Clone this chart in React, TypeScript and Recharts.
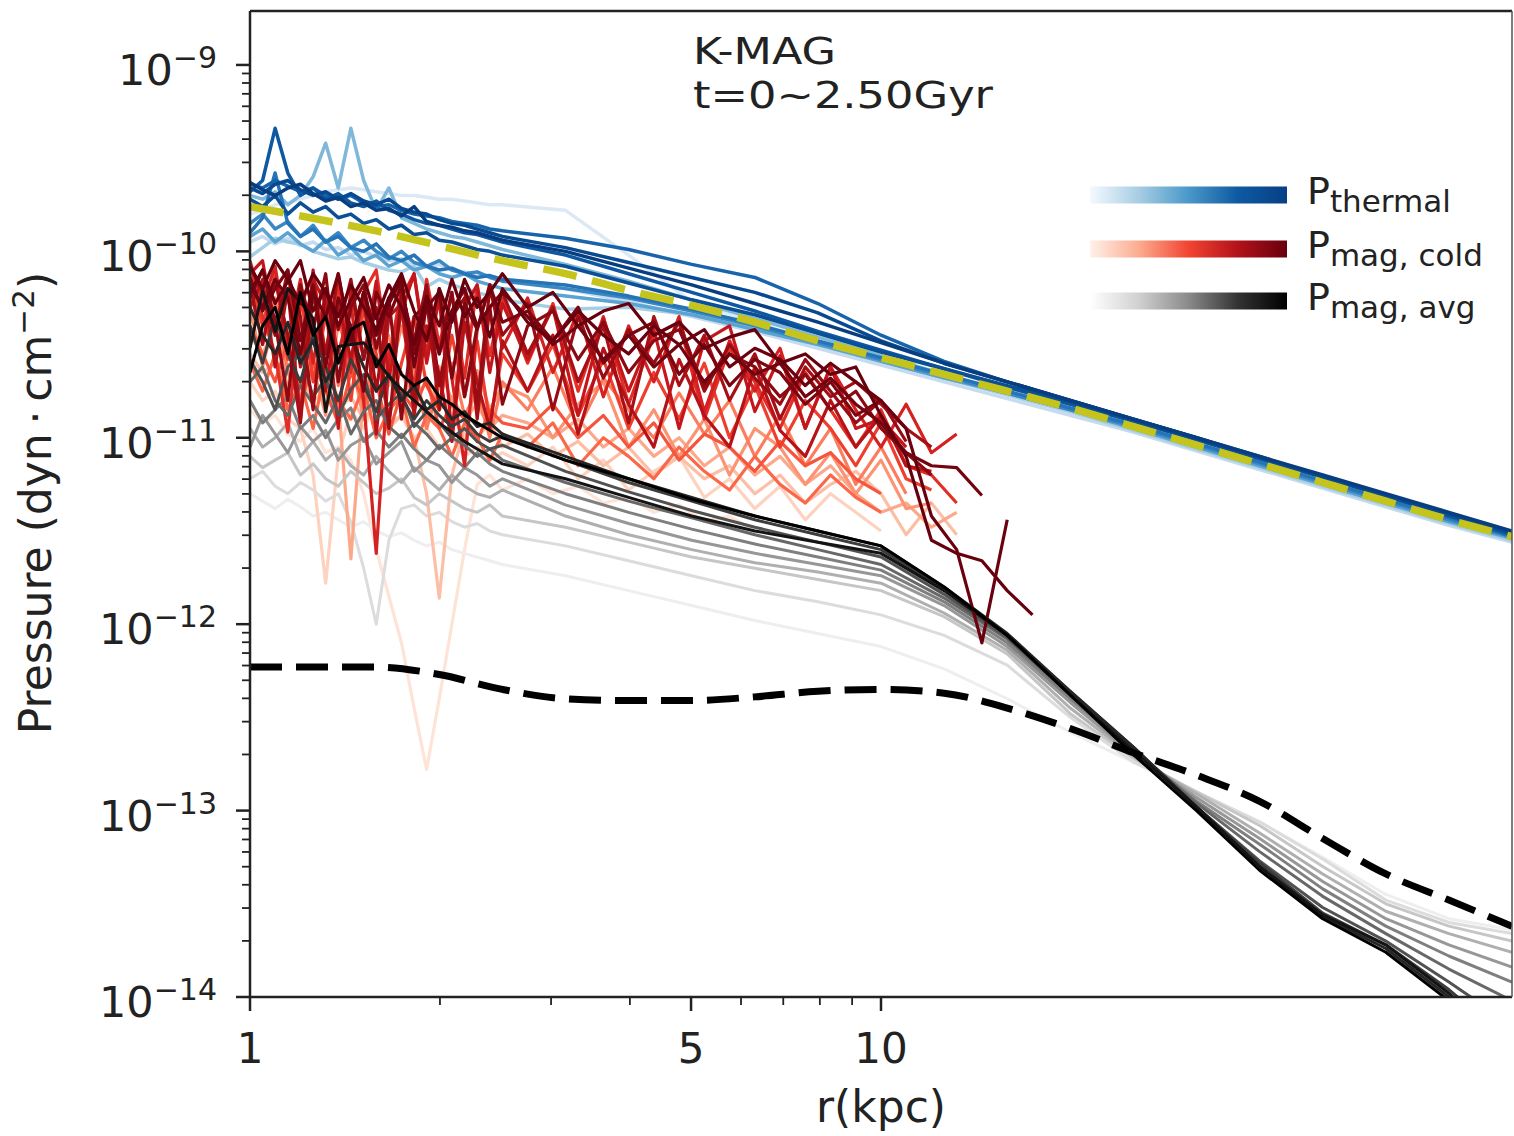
import React from 'react'
import { LineChart, Line, XAxis, YAxis } from 'recharts'

const W = 1514
const H = 1136
const PLOT = { left: 250, top: 11, right: 1512, bottom: 997 }
const FONT = 'DejaVu Sans'
const INK = '#222'

// radial bins, kpc
const R_INNER = [1, 1.047, 1.096, 1.148, 1.202, 1.259, 1.318, 1.38, 1.445, 1.514, 1.585, 1.66, 1.738, 1.82, 1.905, 1.995, 2.089, 2.188, 2.291, 2.399, 2.512]
const R_OUTER = [3.162, 3.981, 5.012, 6.31, 7.943, 10, 12.59, 15.85, 19.95, 25.12, 31.62, 39.81, 50.12, 63.1, 79.43, 100]
const R_RED_TAIL = [2.754, 3.02, 3.311, 3.631, 3.981, 4.365, 4.786, 5.248, 5.754, 6.31, 6.918, 7.586, 8.318, 9.12, 10, 10.96, 12.02, 13.18, 14.45, 15.85, 17.38]
const R_FIT = [1, 1.585, 2.512, 3.162, 3.981, 5.012, 6.31, 7.943, 10, 12.59, 15.85, 19.95, 25.12, 31.62, 39.81, 50.12, 63.1, 79.43, 100]
const R_DASH = [1, 1.259, 1.585, 1.995, 2.512, 3.162, 3.981, 5.012, 6.31, 7.943, 10, 12.59, 15.85, 19.95, 25.12, 31.62, 39.81, 50.12, 63.1, 79.43, 100]

// all pressures stored as log10(P / dyn cm^-2)
const FIT_THERMAL = [-9.76, -9.89, -10.05, -10.12, -10.21, -10.29, -10.38, -10.48, -10.57, -10.66, -10.75, -10.84, -10.94, -11.04, -11.14, -11.24, -11.34, -11.44, -11.53]
const MAG_REF = [-12.23, -12.23, -12.23, -12.27, -12.35, -12.4, -12.41, -12.41, -12.39, -12.36, -12.35, -12.37, -12.45, -12.56, -12.69, -12.81, -12.95, -13.15, -13.34, -13.48, -13.62]

// P_thermal, early -> late (R_INNER then R_OUTER)
const THERMAL = [
  [-9.8, -9.78, -9.75, -9.74, -9.72, -9.7, -9.68, -9.67, -9.66, -9.67, -9.68, -9.69, -9.7, -9.7, -9.71, -9.72, -9.72, -9.73, -9.74, -9.75, -9.75, -9.78, -10.02, -10.27, -10.38, -10.49, -10.59, -10.68, -10.77, -10.87, -10.97, -11.07, -11.17, -11.27, -11.37, -11.47, -11.56],
  [-9.95, -9.92, -9.96, -9.93, -9.97, -9.95, -9.99, -9.98, -10.02, -10.0, -10.03, -10.05, -10.04, -10.07, -10.08, -10.07, -10.1, -10.11, -10.12, -10.13, -10.15, -10.2, -10.27, -10.35, -10.43, -10.52, -10.61, -10.7, -10.79, -10.88, -10.97, -11.07, -11.17, -11.27, -11.37, -11.47, -11.56],
  [-10.03, -9.98, -9.93, -9.95, -9.96, -10.0, -10.02, -10.04, -10.03, -10.06, -10.08, -10.1, -10.11, -10.08, -10.19, -10.15, -10.18, -10.2, -10.22, -10.24, -10.26, -10.31, -10.3, -10.34, -10.41, -10.5, -10.59, -10.68, -10.77, -10.86, -10.96, -11.06, -11.16, -11.26, -11.36, -11.46, -11.55],
  [-9.7, -9.72, -9.68, -9.75, -9.7, -9.6, -9.42, -9.66, -9.34, -9.62, -9.78, -9.66, -9.82, -9.85, -9.88, -9.9, -9.92, -9.93, -9.95, -9.97, -9.99, -10.07, -10.16, -10.26, -10.36, -10.46, -10.56, -10.66, -10.76, -10.85, -10.95, -11.05, -11.15, -11.25, -11.35, -11.45, -11.54],
  [-9.92, -9.88, -9.95, -9.9, -9.96, -10.0, -9.94, -10.02, -9.98, -10.05, -10.02, -10.08, -10.05, -10.1, -10.08, -10.12, -10.14, -10.12, -10.16, -10.18, -10.2, -10.24, -10.28, -10.34, -10.42, -10.5, -10.59, -10.68, -10.76, -10.85, -10.95, -11.05, -11.15, -11.25, -11.35, -11.45, -11.54],
  [-9.85, -9.8, -9.88, -9.84, -9.92, -9.86, -9.95, -9.9, -9.98, -9.94, -10.0, -10.04, -10.0, -10.06, -10.08, -10.05, -10.1, -10.12, -10.11, -10.14, -10.16, -10.2, -10.25, -10.32, -10.4, -10.49, -10.58, -10.67, -10.76, -10.85, -10.94, -11.04, -11.14, -11.24, -11.34, -11.44, -11.53],
  [-9.9, -9.82, -9.58, -9.85, -9.92, -9.88, -9.95, -9.92, -9.98, -10.0, -9.96, -10.03, -10.05, -10.02, -10.08, -10.1, -10.09, -10.12, -10.14, -10.13, -10.15, -10.18, -10.24, -10.31, -10.39, -10.48, -10.57, -10.66, -10.75, -10.84, -10.93, -11.03, -11.13, -11.23, -11.33, -11.43, -11.53],
  [-9.64, -9.66, -9.62, -9.65, -9.68, -9.66, -9.7, -9.72, -9.7, -9.74, -9.76, -9.75, -9.78, -9.8, -9.81, -9.82, -9.84, -9.85, -9.86, -9.88, -9.89, -9.93, -9.99, -10.07, -10.14, -10.28, -10.45, -10.59, -10.7, -10.8, -10.9, -11.0, -11.11, -11.21, -11.31, -11.41, -11.51],
  [-9.68, -9.62, -9.34, -9.58, -9.7, -9.66, -9.72, -9.69, -9.74, -9.76, -9.73, -9.78, -9.8, -9.83, -9.85, -9.86, -9.88, -9.9, -9.91, -9.93, -9.95, -10.02, -10.12, -10.22, -10.32, -10.43, -10.53, -10.63, -10.73, -10.82, -10.91, -11.01, -11.11, -11.21, -11.31, -11.42, -11.52],
  [-9.72, -9.76, -9.7, -9.8, -9.74, -9.79, -9.76, -9.82, -9.8, -9.85, -9.83, -9.88, -9.86, -9.91, -9.9, -9.94, -9.95, -9.97, -9.99, -10.0, -10.02, -10.08, -10.17, -10.26, -10.34, -10.44, -10.54, -10.63, -10.72, -10.81, -10.91, -11.01, -11.11, -11.21, -11.31, -11.41, -11.51],
  [-9.66, -9.69, -9.64, -9.62, -9.67, -9.7, -9.68, -9.72, -9.69, -9.73, -9.75, -9.72, -9.77, -9.79, -9.8, -9.83, -9.85, -9.86, -9.88, -9.9, -9.92, -9.98, -10.06, -10.14, -10.22, -10.33, -10.48, -10.6, -10.7, -10.8, -10.9, -11.0, -11.1, -11.21, -11.31, -11.41, -11.51],
  [-9.63, -9.67, -9.7, -9.66, -9.64, -9.69, -9.73, -9.71, -9.76, -9.74, -9.78, -9.77, -9.81, -9.76, -9.84, -9.86, -9.87, -9.89, -9.9, -9.92, -9.94, -10.0, -10.09, -10.18, -10.28, -10.38, -10.49, -10.6, -10.7, -10.8, -10.9, -11.0, -11.1, -11.2, -11.3, -11.4, -11.5],
]

// P_mag,cold, early -> late (R_INNER then R_RED_TAIL; lines stop where the cold gas runs out)
const MAG_COLD = [
  [-10.85, -10.92, -10.88, -10.98, -11.02, -10.95, -11.08, -11.05, -11.12, -11.3, -11.6, -11.85, -12.1, -12.45, -12.78, -12.4, -12.0, -11.6, -11.25, -11.2, -11.28, -11.22, -11.3, -11.26, -11.35, -11.32, -11.4, -11.36, -11.45, -11.42, -11.5],
  [-10.7, -10.8, -10.75, -10.9, -10.95, -11.2, -11.78, -11.1, -10.85, -10.95, -10.8, -10.92, -10.88, -11.0, -10.95, -11.05, -11.0, -11.1, -11.05, -11.12, -11.08, -11.15, -11.05, -11.22, -11.12, -11.28, -11.18, -11.1, -11.32, -11.22, -11.38, -11.26, -11.44, -11.3, -11.4, -11.5],
  [-10.55, -10.65, -10.6, -10.72, -10.68, -10.8, -10.75, -10.85, -10.78, -10.9, -10.82, -10.95, -10.88, -11.0, -11.3, -11.86, -11.2, -10.95, -11.0, -10.92, -11.05, -10.98, -11.1, -11.02, -11.15, -11.05, -11.2, -11.1, -11.22, -11.15, -11.3, -11.2, -11.35, -11.25, -11.18, -11.3, -11.52, -11.35, -11.52],
  [-10.45, -10.55, -10.4, -10.62, -10.5, -10.68, -10.58, -10.8, -11.65, -10.75, -10.6, -10.72, -10.65, -10.8, -10.7, -10.85, -10.78, -10.9, -10.82, -10.95, -10.88, -10.92, -11.0, -10.9, -11.05, -10.95, -11.1, -11.0, -11.15, -11.05, -11.2, -11.1, -11.25, -11.15, -11.3, -11.4, -11.35, -11.48, -11.4],
  [-10.3, -10.62, -10.35, -10.75, -10.4, -10.62, -10.88, -10.38, -10.58, -10.9, -10.52, -10.45, -10.82, -10.58, -10.95, -10.62, -10.8, -11.05, -10.64, -10.85, -10.72, -10.78, -11.0, -10.82, -10.7, -11.05, -10.85, -11.1, -10.9, -11.2, -10.95, -11.05, -11.25, -11.08, -11.3, -11.12, -11.38, -11.35],
  [-10.2, -10.5, -10.25, -10.65, -10.8, -10.38, -10.3, -10.72, -10.42, -10.85, -10.48, -10.7, -10.4, -10.62, -10.95, -10.72, -10.6, -10.88, -10.75, -11.0, -10.7, -10.85, -10.62, -10.95, -10.68, -10.85, -11.0, -10.76, -10.98, -10.8, -11.1, -10.88, -11.15, -10.95, -11.25, -11.05, -11.3],
  [-10.6, -10.75, -10.55, -10.85, -10.7, -10.95, -10.62, -10.8, -10.9, -10.72, -11.0, -10.85, -10.78, -11.05, -10.88, -10.95, -11.1, -10.92, -11.0, -11.12, -10.98, -11.05, -10.92, -11.15, -11.0, -11.1, -11.22, -11.05, -11.18, -11.28, -11.1, -11.25, -11.35, -11.2, -11.32, -11.4],
  [-10.4, -10.55, -10.7, -10.48, -10.82, -10.6, -10.75, -10.92, -10.65, -10.8, -10.7, -10.98, -10.75, -10.85, -10.68, -10.95, -10.82, -10.9, -11.02, -10.85, -10.92, -10.95, -10.82, -11.0, -10.88, -11.05, -10.92, -11.12, -10.98, -11.05, -11.18, -11.02, -11.15, -11.08, -11.22, -11.3],
  [-10.15, -10.4, -10.12, -10.58, -10.22, -10.7, -10.35, -10.25, -10.8, -10.3, -10.55, -10.9, -10.6, -10.35, -10.72, -10.85, -10.45, -10.78, -10.48, -10.92, -10.55, -10.75, -10.5, -10.88, -10.58, -10.95, -10.65, -10.9, -10.6, -11.0, -10.72, -11.05, -10.8, -10.95, -11.15, -10.92, -11.22, -11.28],
  [-10.1, -10.35, -10.55, -10.97, -10.3, -10.12, -10.55, -10.18, -10.65, -10.22, -10.1, -10.58, -10.2, -10.75, -10.15, -10.5, -10.22, -10.68, -10.18, -10.56, -10.25, -10.6, -10.28, -10.75, -10.35, -10.82, -10.45, -10.38, -10.9, -10.52, -10.7, -10.95, -10.65, -10.85, -11.05, -10.85, -11.15, -11.2, -11.35],
  [-10.05, -10.28, -10.08, -10.5, -10.15, -10.6, -10.22, -10.55, -10.28, -10.8, -11.62, -10.6, -10.25, -10.12, -10.55, -10.2, -10.68, -11.15, -10.42, -10.18, -10.52, -10.25, -10.65, -10.32, -10.78, -10.4, -10.7, -10.35, -10.86, -10.48, -10.75, -10.52, -10.95, -10.62, -10.85, -11.05, -10.82, -11.08, -10.98],
  [-10.12, -10.05, -10.42, -10.1, -10.62, -10.15, -10.28, -10.95, -10.2, -10.58, -10.16, -10.68, -10.33, -10.12, -10.6, -10.25, -10.98, -10.3, -10.18, -10.65, -10.28, -10.58, -10.3, -10.88, -10.36, -10.75, -10.42, -10.95, -10.48, -10.4, -10.86, -10.56, -10.95, -10.62, -10.95, -10.9, -11.05],
  [-10.3, -10.15, -10.62, -10.2, -10.9, -10.1, -10.75, -10.28, -10.58, -10.22, -10.98, -10.35, -10.28, -10.88, -10.4, -10.66, -11.02, -10.38, -10.7, -10.95, -10.48, -10.75, -10.45, -10.98, -10.52, -10.82, -11.05, -10.58, -10.88, -11.05, -10.62, -10.96, -11.1, -10.8, -11.05, -10.88, -11.15, -11.18],
  [-10.18, -10.5, -10.15, -10.45, -10.92, -10.22, -10.55, -10.12, -10.5, -10.22, -10.75, -10.28, -10.15, -10.82, -10.26, -10.85, -10.32, -10.2, -10.9, -10.3, -10.22, -10.55, -10.3, -10.7, -10.4, -10.92, -10.35, -10.72, -10.45, -10.8, -10.55, -10.9, -10.62, -10.78, -10.7, -10.82, -10.95, -11.05],
  [-10.08, -10.22, -10.45, -10.12, -10.35, -10.85, -10.2, -10.42, -10.15, -10.58, -10.3, -10.95, -10.22, -10.48, -10.18, -10.72, -10.35, -10.25, -10.82, -10.2, -10.45, -10.28, -10.85, -10.35, -10.68, -10.42, -10.6, -10.38, -10.75, -10.5, -10.68, -10.82, -10.58, -10.75, -10.92, -10.8, -11.02],
  [-10.25, -10.1, -10.38, -10.8, -10.18, -10.42, -10.12, -10.7, -10.3, -10.18, -10.52, -10.25, -10.9, -10.35, -10.28, -10.55, -10.22, -10.78, -10.4, -10.3, -10.82, -10.4, -10.32, -10.58, -10.38, -10.65, -10.48, -10.42, -10.72, -10.55, -10.62, -10.78, -10.66, -10.85, -10.75, -10.95, -11.08, -11.2],
  [-10.14, -10.32, -10.2, -10.1, -10.48, -10.18, -10.62, -10.25, -10.4, -10.75, -10.22, -10.35, -10.18, -10.55, -10.3, -10.22, -10.68, -10.28, -10.42, -10.18, -10.38, -10.32, -10.48, -10.3, -10.6, -10.45, -10.38, -10.66, -10.5, -10.72, -10.58, -10.65, -10.82, -10.7, -10.88, -10.8],
  [-10.18, -10.3, -10.15, -10.25, -10.55, -10.22, -10.35, -10.12, -10.48, -10.22, -10.45, -10.28, -10.15, -10.62, -10.26, -10.55, -10.32, -10.2, -10.4, -10.3, -10.22, -10.35, -10.5, -10.4, -10.58, -10.45, -10.62, -10.5, -10.7, -10.55, -10.66, -10.6, -10.78, -10.68, -10.82, -10.92, -11.08, -11.15, -11.16, -11.31],
  [-10.22, -10.1, -10.28, -10.16, -10.05, -10.32, -10.2, -10.4, -10.26, -10.14, -10.36, -10.18, -10.3, -10.5, -10.24, -10.4, -10.15, -10.35, -10.25, -10.46, -10.2, -10.38, -10.48, -10.32, -10.45, -10.55, -10.4, -10.5, -10.42, -10.62, -10.52, -10.58, -10.72, -10.6, -10.7, -10.8, -10.95, -11.42, -11.6, -12.1, -11.44],
  [-10.08, -10.2, -10.05, -10.15, -10.28, -10.12, -10.22, -10.35, -10.18, -10.3, -10.42, -10.25, -10.12, -10.32, -10.48, -10.2, -10.38, -10.15, -10.3, -10.22, -10.12, -10.3, -10.22, -10.4, -10.32, -10.28, -10.45, -10.38, -10.52, -10.46, -10.42, -10.6, -10.55, -10.66, -10.62, -10.88, -11.1, -11.55, -11.62, -11.66, -11.82, -11.95],
]

// P_mag,avg, early -> late (R_INNER then R_OUTER)
const MAG_AVG = [
  [-11.3, -11.34, -11.38, -11.33, -11.37, -11.42, -11.4, -11.44, -11.48, -11.45, -11.5, -11.53, -11.51, -11.55, -11.58, -11.56, -11.6, -11.62, -11.64, -11.66, -11.68, -11.74, -11.82, -11.9, -11.98, -12.05, -12.12, -12.24, -12.4, -12.58, -12.74, -12.9, -13.06, -13.25, -13.45, -13.58, -13.64],
  [-11.22, -11.18, -11.26, -11.3, -11.24, -11.28, -11.34, -11.3, -11.45, -11.7, -12.0, -11.55, -11.38, -11.36, -11.42, -11.4, -11.45, -11.48, -11.46, -11.5, -11.52, -11.58, -11.66, -11.74, -11.82, -11.88, -11.95, -12.06, -12.22, -12.5, -12.74, -12.9, -13.06, -13.26, -13.48, -13.6, -13.66],
  [-11.1, -11.16, -11.12, -11.08, -11.2, -11.14, -11.22, -11.26, -11.18, -11.24, -11.3, -11.27, -11.22, -11.32, -11.36, -11.3, -11.34, -11.38, -11.4, -11.36, -11.42, -11.48, -11.56, -11.64, -11.7, -11.76, -11.82, -11.96, -12.16, -12.48, -12.72, -12.9, -13.08, -13.3, -13.5, -13.62, -13.7],
  [-10.95, -11.05, -11.0, -10.92, -11.1, -11.02, -11.12, -11.06, -11.15, -11.2, -11.1, -11.18, -11.24, -11.16, -11.22, -11.28, -11.2, -11.26, -11.3, -11.32, -11.28, -11.42, -11.52, -11.6, -11.67, -11.72, -11.78, -11.94, -12.14, -12.45, -12.71, -12.91, -13.12, -13.34, -13.54, -13.66, -13.76],
  [-11.05, -10.88, -10.98, -11.08, -10.94, -11.02, -10.96, -11.12, -11.04, -11.0, -11.14, -11.08, -11.02, -11.18, -11.12, -11.15, -11.24, -11.16, -11.2, -11.26, -11.22, -11.36, -11.46, -11.55, -11.62, -11.68, -11.74, -11.9, -12.12, -12.42, -12.7, -12.93, -13.15, -13.38, -13.58, -13.72, -13.84],
  [-10.8, -10.92, -10.85, -10.78, -10.95, -10.88, -11.0, -10.9, -10.84, -11.02, -10.96, -11.05, -10.98, -11.06, -11.12, -11.04, -11.1, -11.16, -11.08, -11.14, -11.18, -11.3, -11.4, -11.49, -11.57, -11.64, -11.71, -11.88, -12.1, -12.4, -12.68, -12.95, -13.18, -13.42, -13.62, -13.78, -13.92],
  [-10.7, -10.62, -10.8, -10.88, -10.72, -10.82, -10.92, -10.78, -10.98, -10.86, -10.8, -10.94, -11.0, -10.92, -10.98, -11.06, -11.0, -11.04, -11.1, -11.06, -11.12, -11.24, -11.34, -11.43, -11.52, -11.6, -11.68, -11.86, -12.08, -12.38, -12.67, -12.96, -13.22, -13.46, -13.66, -13.85, -14.02],
  [-10.58, -10.7, -10.85, -10.62, -10.55, -10.78, -10.68, -10.88, -10.74, -10.66, -10.9, -10.82, -10.76, -10.94, -10.86, -10.92, -11.0, -10.95, -11.02, -11.06, -11.04, -11.18, -11.29, -11.39, -11.48, -11.56, -11.64, -11.84, -12.07, -12.37, -12.67, -12.98, -13.27, -13.52, -13.7, -13.92, -14.15],
  [-10.4, -10.6, -10.35, -10.55, -10.7, -10.45, -10.62, -10.8, -10.58, -10.72, -10.86, -10.66, -10.78, -10.9, -10.8, -10.88, -10.94, -10.9, -10.98, -11.02, -10.99, -11.12, -11.24, -11.34, -11.44, -11.52, -11.6, -11.81, -12.06, -12.36, -12.66, -12.98, -13.28, -13.55, -13.72, -13.96, -14.25],
  [-10.3, -10.45, -10.55, -10.38, -10.6, -10.48, -10.7, -10.58, -10.45, -10.62, -10.75, -10.66, -10.8, -10.72, -10.85, -10.8, -10.9, -10.86, -10.94, -10.92, -10.98, -11.1, -11.22, -11.32, -11.42, -11.5, -11.58, -11.8, -12.05, -12.36, -12.66, -12.98, -13.3, -13.57, -13.74, -14.0, -14.3],
  [-10.52, -10.21, -10.43, -10.2, -10.27, -10.36, -10.86, -10.51, -10.5, -10.49, -10.58, -10.67, -10.74, -10.8, -10.86, -10.92, -10.97, -11.02, -11.06, -11.1, -11.14, -11.22, -11.32, -11.42, -11.5, -11.56, -11.62, -11.82, -12.06, -12.38, -12.68, -12.98, -13.3, -13.56, -13.72, -13.98, -14.3],
  [-10.65, -10.4, -10.3, -10.55, -10.22, -10.45, -10.35, -10.6, -10.42, -10.38, -10.62, -10.5, -10.66, -10.72, -10.68, -10.78, -10.82, -10.88, -10.92, -10.96, -11.0, -11.12, -11.22, -11.33, -11.42, -11.5, -11.58, -11.8, -12.06, -12.38, -12.7, -13.0, -13.32, -13.58, -13.76, -14.02, -14.35],
]

const BLUE = ['#dbe9f6', '#c6dbef', '#a6cee4', '#7fb8da', '#5ba3d0', '#3a88c3', '#2474b7', '#1764ab', '#0d58a1', '#0b4f97', '#084a91', '#083d7f']
const RED = ['#fee3d7', '#fdd2bf', '#fcbea5', '#fca98b', '#fc9373', '#fb7d5d', '#fa6849', '#f5553c', '#ee3f2e', '#e22e27', '#d42121', '#c5161c', '#b61319', '#a70f16', '#980c13', '#8a0912', '#7c0610', '#72030f', '#6b010e', '#67000d']
const GREY = ['#eeeeee', '#dcdcdc', '#c6c6c6', '#afafaf', '#979797', '#7f7f7f', '#686868', '#525252', '#3c3c3c', '#262626', '#141414', '#000000']

const X_TICKS = [1, 2, 3, 4, 5, 6, 7, 8, 9, 10]
const X_LABELS = [1, 5, 10]
const Y_DECADES = [-14, -13, -12, -11, -10, -9]
const Y_MINOR = [2, 3, 4, 5, 6, 7, 8, 9]
const Y_MAX = 1.947e-9

const Y_TICKS = Y_DECADES.flatMap(e => [10 ** e, ...Y_MINOR.map(m => m * 10 ** e)]).filter(v => v <= Y_MAX)

const pts = (rs: number[], logs: number[]) => logs.map((v, i) => ({ r: rs[i], p: 10 ** v }))
const R_BLUE_GREY = [...R_INNER, ...R_OUTER]
const R_RED = [...R_INNER, ...R_RED_TAIL]

type Series = { key: string; t: number; g: number; color: string; width: number; data: { r: number; p: number }[] }

function buildSeries(): Series[] {
  const out: Series[] = []
  THERMAL.forEach((row, i) => out.push({ key: 'th' + i, t: i / (THERMAL.length - 1), g: 0, color: BLUE[i], width: 3.5, data: pts(R_BLUE_GREY, row) }))
  MAG_COLD.forEach((row, i) => out.push({ key: 'mc' + i, t: i / (MAG_COLD.length - 1), g: 1, color: RED[i], width: 3.2, data: pts(R_RED, row) }))
  MAG_AVG.forEach((row, i) => out.push({ key: 'ma' + i, t: i / (MAG_AVG.length - 1), g: 2, color: GREY[i], width: 3, data: pts(R_BLUE_GREY, row) }))
  // later snapshots drawn on top, like the original loop over time
  return out.sort((a, b) => a.t - b.t || a.g - b.g)
}

const XTick = (props: any) => {
  const { x, y, payload } = props
  const major = X_LABELS.includes(payload.value)
  return (
    <g>
      <line x1={x} x2={x} y1={y} y2={y + (major ? 14 : 8)} stroke={INK} strokeWidth={major ? 2.5 : 1.8} />
      {major && (
        <text x={x} y={y + 66} textAnchor="middle" fontFamily={FONT} fontSize={42} fill={INK}>{payload.value}</text>
      )}
    </g>
  )
}

const YTick = (props: any) => {
  const { x, y, payload } = props
  const v = payload.value
  const exp = Math.round(Math.log10(v))
  const major = Math.abs(v / 10 ** exp - 1) < 1e-6
  return (
    <g>
      <line x1={x} x2={x - (major ? 14 : 8)} y1={y} y2={y} stroke={INK} strokeWidth={major ? 2.5 : 1.8} />
      {major && (
        <text x={x - 33} y={y + 20} textAnchor="end" fontFamily={FONT} fontSize={43} fill={INK}>
          10<tspan dy={-17} fontSize={30}>{'\u2212' + (-exp)}</tspan>
        </text>
      )}
    </g>
  )
}

const LEGEND = [
  { id: 'gBlue', cy: 195, sub: 'thermal', stops: ['#f5f9fe', '#a6cde3', '#4a98c9', '#0e5aa2', '#083f85'] },
  { id: 'gRed', cy: 249, sub: 'mag, cold', stops: ['#fff1ea', '#fcab8f', '#f14432', '#b3121a', '#67000d'] },
  { id: 'gGrey', cy: 301, sub: 'mag, avg', stops: ['#ffffff', '#d0d0d0', '#8a8a8a', '#333333', '#000000'] },
]

function Overlay() {
  return (
    <svg width={W} height={H} style={{ position: 'absolute', left: 0, top: 0, pointerEvents: 'none' }}>
      <defs>
        {LEGEND.map(l => (
          <linearGradient key={l.id} id={l.id} x1="0" x2="1" y1="0" y2="0">
            {l.stops.map((c, i) => <stop key={i} offset={i / (l.stops.length - 1)} stopColor={c} />)}
          </linearGradient>
        ))}
      </defs>
      <line x1={PLOT.left} x2={PLOT.right} y1={PLOT.top} y2={PLOT.top} stroke={INK} strokeWidth={2.5} />
      <line x1={PLOT.right} x2={PLOT.right} y1={PLOT.top} y2={PLOT.bottom} stroke="#555" strokeWidth={1.5} />

      <text x={693} y={64} fontFamily={FONT} fontSize={38} fill={INK} textLength={143} lengthAdjust="spacingAndGlyphs">K-MAG</text>
      <text x={693} y={108} fontFamily={FONT} fontSize={38} fill={INK} textLength={300} lengthAdjust="spacingAndGlyphs">t=0~2.50Gyr</text>

      {LEGEND.map(l => (
        <g key={l.id}>
          <rect x={1090} y={l.cy - 8.5} width={197} height={17} fill={`url(#${l.id})`} />
          <text x={1307} y={l.cy + 9} fontFamily={FONT} fontSize={38} fill={INK}>
            P<tspan dy={8} fontSize={31}>{l.sub}</tspan>
          </text>
        </g>
      ))}

      <text x={51} y={503} transform="rotate(-90 51 503)" textAnchor="middle" fontFamily={FONT} fontSize={44} fill={INK}>
        Pressure (dyn{'\u2009\u00b7\u2009'}cm<tspan dy={-17} fontSize={31}>{'\u22122'}</tspan><tspan dy={17}>)</tspan>
      </text>
      <text x={(PLOT.left + PLOT.right) / 2} y={1122} textAnchor="middle" fontFamily={FONT} fontSize={44} fill={INK}>r(kpc)</text>
    </svg>
  )
}

export default function App() {
  const series = buildSeries()
  return (
    <div style={{ position: 'absolute', left: 0, top: 0, width: W, height: H, background: 'white' }}>
      <LineChart width={W} height={H} margin={{ top: PLOT.top, right: W - PLOT.right, bottom: 9, left: 8 }}>
        <XAxis
          dataKey="r" type="number" scale="log" domain={[1, 100]} allowDataOverflow
          ticks={X_TICKS} interval={0} tick={XTick} tickLine={false} tickSize={0} tickMargin={0}
          height={H - PLOT.bottom - 9} axisLine={{ stroke: INK, strokeWidth: 2.5 }}
        />
        <YAxis
          type="number" scale="log" domain={[1e-14, Y_MAX]} allowDataOverflow
          ticks={Y_TICKS} interval={0} tick={YTick} tickLine={false} tickSize={0} tickMargin={0}
          width={PLOT.left - 8} axisLine={{ stroke: INK, strokeWidth: 2.5 }}
        />
        {series.map(s => (
          <Line key={s.key} data={s.data} dataKey="p" type="linear" stroke={s.color} strokeWidth={s.width}
            strokeLinejoin="round" dot={false} activeDot={false} isAnimationActive={false} />
        ))}
        <Line data={pts(R_FIT, FIT_THERMAL)} dataKey="p" type="monotone" stroke="#c4c41c" strokeWidth={7.5}
          strokeDasharray="34 16" dot={false} activeDot={false} isAnimationActive={false} />
        <Line data={pts(R_DASH, MAG_REF)} dataKey="p" type="monotone" stroke="#000" strokeWidth={7}
          strokeDasharray="32 14" dot={false} activeDot={false} isAnimationActive={false} />
      </LineChart>
      <Overlay />
    </div>
  )
}
